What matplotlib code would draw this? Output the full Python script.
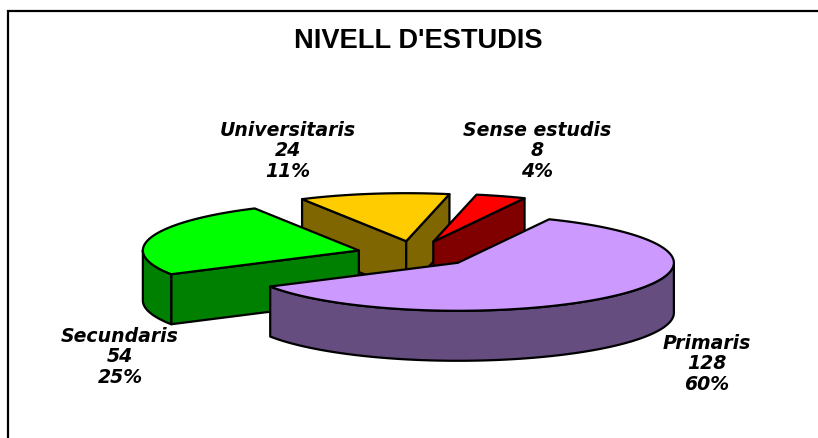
import numpy as np
import matplotlib
matplotlib.use("Agg")
import matplotlib.pyplot as plt
from matplotlib.patches import Polygon

title = "NIVELL D'ESTUDIS"
categories = ["Primaris", "Secundaris", "Universitaris", "Sense estudis"]
values = [128, 54, 24, 8]
percents = ["60%", "25%", "11%", "4%"]
top_colors = ["#CC99FF", "#00FF00", "#FFCC00", "#FF0000"]
side_colors = ["#664D80", "#008000", "#806600", "#800000"]
label_pos = [(707, 364), (120, 357), (287.5, 151), (537, 151)]
draw_order = [2, 3, 1, 0]

start_angle = 25.0
explode = 0.27
cx, cy = 415.0, 255.0
rx, ry = 216.0, 48.0
depth = 50.0
LW = 1.6

fig = plt.figure(figsize=(8.18, 4.39), dpi=100, facecolor="white")
ax = fig.add_axes([0, 0, 1, 1])
ax.set_xlim(0, 818)
ax.set_ylim(439, 0)
ax.axis("off")

# frame open on the right and bottom
ax.plot([8, 8, 818], [439, 12, 12], color="black", lw=1.6, solid_joinstyle="miter", zorder=1)

ax.text(418.5, 41.5, title, family="Liberation Sans", weight="bold", fontsize=19.6,
        ha="center", va="center", color="black")

total = sum(values)
edges = start_angle + np.concatenate([[0], np.cumsum(values)]) * 360.0 / total


def pt(theta):
    t = np.radians(theta)
    return np.sin(t) * rx, -np.cos(t) * ry


def face(points, color, z):
    ax.add_patch(Polygon(points, closed=True, facecolor=color, edgecolor="black",
                         lw=LW, joinstyle="round", zorder=z))


z = 2
for i in draw_order:
    a0, a1 = edges[i], edges[i + 1]
    mid = np.radians((a0 + a1) / 2)
    ax0 = cx + explode * rx * np.sin(mid)
    ay0 = cy - explode * ry * np.cos(mid)
    apex = np.array([ax0, ay0])
    drop = np.array([0, depth])

    # flat cut faces
    for theta, visible in ((a0, np.sin(np.radians(a0)) < 0), (a1, np.sin(np.radians(a1)) > 0)):
        if visible:
            corner = apex + pt(theta)
            face([apex, corner, corner + drop, apex + drop], side_colors[i], z)
            z += 1

    # curved outer wall: only the part facing the viewer
    lo, hi = max(a0, 90), min(a1, 270)
    if hi > lo:
        th = np.linspace(lo, hi, 120)
        upper = [apex + pt(t) for t in th]
        lower = [apex + pt(t) + drop for t in th[::-1]]
        face(upper + lower, side_colors[i], z)
        z += 1

    # top surface
    th = np.linspace(a0, a1, 160)
    face([apex] + [apex + pt(t) for t in th], top_colors[i], z)
    z += 1

for cat, val, pct, (lx, ly) in zip(categories, values, percents, label_pos):
    ax.text(lx, ly, f"{cat}\n{val}\n{pct}", family="DejaVu Sans", weight="bold", style="italic",
            fontsize=13.6, ha="center", va="center", linespacing=1.08, color="black", zorder=50)

fig.savefig("out.png", dpi=100, facecolor="white")
